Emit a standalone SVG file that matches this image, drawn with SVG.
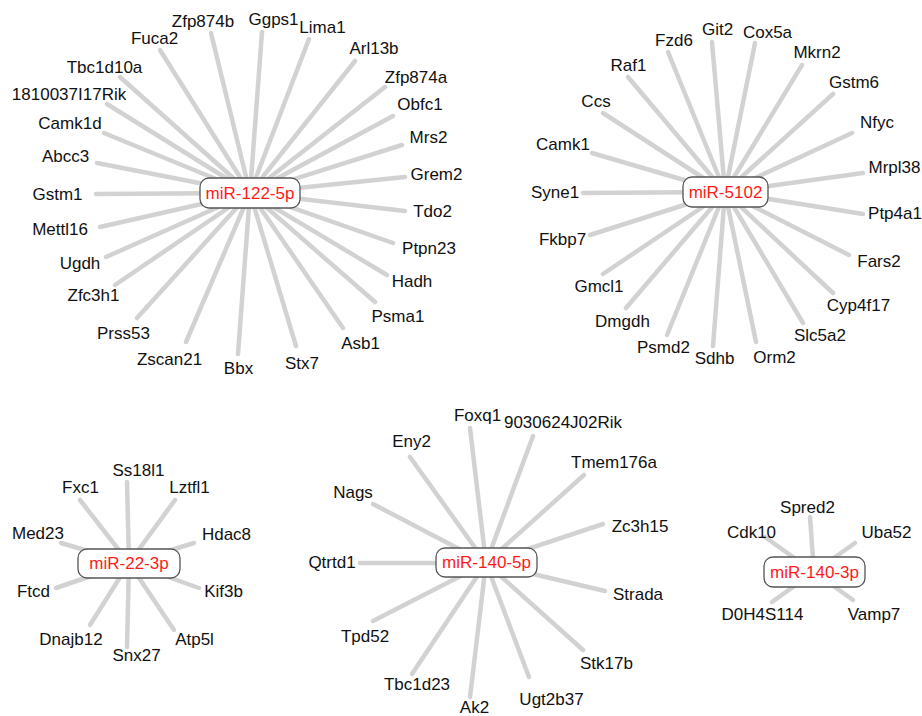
<svg xmlns="http://www.w3.org/2000/svg" width="922" height="716" viewBox="0 0 922 716">
<style>
.e line{stroke:#d2d2d2;stroke-width:4.5;stroke-linecap:round}
.hub rect{fill:#fff;stroke:#555;stroke-width:1.3}
.hub text{fill:#ff1a1a;font-family:"Liberation Sans",Arial,sans-serif;font-size:17px;text-anchor:middle}
.t{fill:#111;font-family:"Liberation Sans",Arial,sans-serif;font-size:17px;text-anchor:middle}
</style>
<rect width="922" height="716" fill="#fff"/>
<g id="connectors" class="e">
<!-- miR-122-5p -->
<line x1="250" y1="193" x2="262" y2="32"/>
<line x1="250" y1="193" x2="309" y2="39"/>
<line x1="250" y1="193" x2="211" y2="33"/>
<line x1="250" y1="193" x2="160" y2="50"/>
<line x1="250" y1="193" x2="120" y2="77"/>
<line x1="250" y1="193" x2="107" y2="104"/>
<line x1="250" y1="193" x2="104" y2="133"/>
<line x1="250" y1="193" x2="97" y2="163"/>
<line x1="250" y1="193" x2="96" y2="194"/>
<line x1="250" y1="193" x2="100" y2="227"/>
<line x1="250" y1="193" x2="106" y2="257"/>
<line x1="250" y1="193" x2="115" y2="285"/>
<line x1="250" y1="193" x2="137" y2="318"/>
<line x1="250" y1="193" x2="186" y2="342"/>
<line x1="250" y1="193" x2="238" y2="354"/>
<line x1="250" y1="193" x2="296" y2="346"/>
<line x1="250" y1="193" x2="343" y2="328"/>
<line x1="250" y1="193" x2="375" y2="302"/>
<line x1="250" y1="193" x2="387" y2="275"/>
<line x1="250" y1="193" x2="393" y2="243"/>
<line x1="250" y1="193" x2="405" y2="211"/>
<line x1="250" y1="193" x2="405" y2="177"/>
<line x1="250" y1="193" x2="402" y2="145"/>
<line x1="250" y1="193" x2="393" y2="116"/>
<line x1="250" y1="193" x2="385" y2="87"/>
<line x1="250" y1="193" x2="355" y2="61"/>
<!-- miR-5102 -->
<line x1="725" y1="192" x2="712" y2="42"/>
<line x1="725" y1="192" x2="755" y2="43"/>
<line x1="725" y1="192" x2="668" y2="52"/>
<line x1="725" y1="192" x2="802" y2="65"/>
<line x1="725" y1="192" x2="628" y2="77"/>
<line x1="725" y1="192" x2="833" y2="94"/>
<line x1="725" y1="192" x2="603" y2="113"/>
<line x1="725" y1="192" x2="852" y2="133"/>
<line x1="725" y1="192" x2="592" y2="153"/>
<line x1="725" y1="192" x2="863" y2="173"/>
<line x1="725" y1="192" x2="583" y2="193"/>
<line x1="725" y1="192" x2="863" y2="214"/>
<line x1="725" y1="192" x2="590" y2="235"/>
<line x1="725" y1="192" x2="849" y2="255"/>
<line x1="725" y1="192" x2="603" y2="274"/>
<line x1="725" y1="192" x2="833" y2="293"/>
<line x1="725" y1="192" x2="626" y2="308"/>
<line x1="725" y1="192" x2="803" y2="323"/>
<line x1="725" y1="192" x2="667" y2="335"/>
<line x1="725" y1="192" x2="713" y2="346"/>
<line x1="725" y1="192" x2="756" y2="342"/>
<!-- miR-22-3p -->
<line x1="129" y1="563" x2="127" y2="482"/>
<line x1="129" y1="563" x2="80" y2="500"/>
<line x1="129" y1="563" x2="175" y2="500"/>
<line x1="129" y1="563" x2="61" y2="543"/>
<line x1="129" y1="563" x2="194" y2="543"/>
<line x1="129" y1="563" x2="56" y2="588"/>
<line x1="129" y1="563" x2="199" y2="588"/>
<line x1="129" y1="563" x2="90" y2="625"/>
<line x1="129" y1="563" x2="127" y2="647"/>
<line x1="129" y1="563" x2="174" y2="630"/>
<!-- miR-140-5p -->
<line x1="486" y1="563" x2="470" y2="428"/>
<line x1="486" y1="563" x2="533" y2="436"/>
<line x1="486" y1="563" x2="410" y2="457"/>
<line x1="486" y1="563" x2="584" y2="475"/>
<line x1="486" y1="563" x2="373" y2="504"/>
<line x1="486" y1="563" x2="603" y2="524"/>
<line x1="486" y1="563" x2="360" y2="563"/>
<line x1="486" y1="563" x2="605" y2="591"/>
<line x1="486" y1="563" x2="373" y2="621"/>
<line x1="486" y1="563" x2="583" y2="650"/>
<line x1="486" y1="563" x2="412" y2="674"/>
<line x1="486" y1="563" x2="529" y2="677"/>
<line x1="486" y1="563" x2="470" y2="697"/>
<!-- miR-140-3p -->
<line x1="814" y1="572" x2="810" y2="517"/>
<line x1="814" y1="572" x2="765" y2="537"/>
<line x1="814" y1="572" x2="855" y2="543"/>
<line x1="814" y1="572" x2="772" y2="602"/>
<line x1="814" y1="572" x2="853" y2="600"/>
</g>
<g id="miR-122-5p" class="hub"><rect x="200" y="178" width="100" height="30" rx="9"/><text x="250" y="199">miR-122-5p</text></g>
<g id="miR-5102" class="hub"><rect x="683" y="177" width="85" height="30" rx="9"/><text x="725.5" y="198">miR-5102</text></g>
<g id="miR-22-3p" class="hub"><rect x="78" y="549" width="102" height="29" rx="9"/><text x="129" y="569">miR-22-3p</text></g>
<g id="miR-140-5p" class="hub"><rect x="436" y="548" width="101" height="29" rx="9"/><text x="486.5" y="568">miR-140-5p</text></g>
<g id="miR-140-3p" class="hub"><rect x="764" y="557" width="101" height="30" rx="9"/><text x="814.5" y="578">miR-140-3p</text></g>
<g class="t">
<g id="Ggps1"><text x="273.5" y="25">Ggps1</text></g>
<g id="Lima1"><text x="322.5" y="33">Lima1</text></g>
<g id="Zfp874b"><text x="203" y="27">Zfp874b</text></g>
<g id="Fuca2"><text x="154.5" y="44">Fuca2</text></g>
<g id="Tbc1d10a"><text x="104.5" y="73">Tbc1d10a</text></g>
<g id="n1810037I17Rik"><text x="69" y="100">1810037I17Rik</text></g>
<g id="Camk1d"><text x="70" y="129">Camk1d</text></g>
<g id="Abcc3"><text x="65.5" y="162">Abcc3</text></g>
<g id="Gstm1"><text x="57.5" y="200">Gstm1</text></g>
<g id="Mettl16"><text x="60" y="235">Mettl16</text></g>
<g id="Ugdh"><text x="80" y="269">Ugdh</text></g>
<g id="Zfc3h1"><text x="93.5" y="301">Zfc3h1</text></g>
<g id="Prss53"><text x="123.5" y="339">Prss53</text></g>
<g id="Zscan21"><text x="169.5" y="365">Zscan21</text></g>
<g id="Bbx"><text x="238.5" y="374">Bbx</text></g>
<g id="Stx7"><text x="302" y="369">Stx7</text></g>
<g id="Asb1"><text x="360.5" y="349">Asb1</text></g>
<g id="Psma1"><text x="398" y="322">Psma1</text></g>
<g id="Hadh"><text x="412" y="287">Hadh</text></g>
<g id="Ptpn23"><text x="429" y="254">Ptpn23</text></g>
<g id="Tdo2"><text x="432.5" y="217">Tdo2</text></g>
<g id="Grem2"><text x="436.5" y="180">Grem2</text></g>
<g id="Mrs2"><text x="428.5" y="143">Mrs2</text></g>
<g id="Obfc1"><text x="420" y="110">Obfc1</text></g>
<g id="Zfp874a"><text x="416" y="83">Zfp874a</text></g>
<g id="Arl13b"><text x="374" y="54">Arl13b</text></g>

<g id="Git2"><text x="717.5" y="35">Git2</text></g>
<g id="Cox5a"><text x="767.5" y="38">Cox5a</text></g>
<g id="Fzd6"><text x="674" y="46">Fzd6</text></g>
<g id="Mkrn2"><text x="817" y="58">Mkrn2</text></g>
<g id="Raf1"><text x="628.5" y="71">Raf1</text></g>
<g id="Gstm6"><text x="854" y="88">Gstm6</text></g>
<g id="Ccs"><text x="596" y="107">Ccs</text></g>
<g id="Nfyc"><text x="877" y="128">Nfyc</text></g>
<g id="Camk1"><text x="563" y="150">Camk1</text></g>
<g id="Mrpl38"><text x="894.5" y="173">Mrpl38</text></g>
<g id="Syne1"><text x="555" y="198">Syne1</text></g>
<g id="Ptp4a1"><text x="895" y="219">Ptp4a1</text></g>
<g id="Fkbp7"><text x="562.5" y="245">Fkbp7</text></g>
<g id="Fars2"><text x="879" y="267">Fars2</text></g>
<g id="Gmcl1"><text x="599" y="292">Gmcl1</text></g>
<g id="Cyp4f17"><text x="858.5" y="311">Cyp4f17</text></g>
<g id="Dmgdh"><text x="622.5" y="327">Dmgdh</text></g>
<g id="Slc5a2"><text x="820" y="341">Slc5a2</text></g>
<g id="Psmd2"><text x="663.5" y="353">Psmd2</text></g>
<g id="Sdhb"><text x="714.5" y="364">Sdhb</text></g>
<g id="Orm2"><text x="774.5" y="363">Orm2</text></g>

<g id="Ss18l1"><text x="138.5" y="476">Ss18l1</text></g>
<g id="Fxc1"><text x="80.5" y="493">Fxc1</text></g>
<g id="Lztfl1"><text x="189.5" y="493">Lztfl1</text></g>
<g id="Med23"><text x="38" y="539">Med23</text></g>
<g id="Hdac8"><text x="226.5" y="540">Hdac8</text></g>
<g id="Ftcd"><text x="33.5" y="597">Ftcd</text></g>
<g id="Kif3b"><text x="223.5" y="597">Kif3b</text></g>
<g id="Dnajb12"><text x="71" y="645">Dnajb12</text></g>
<g id="Snx27"><text x="136.5" y="661">Snx27</text></g>
<g id="Atp5l"><text x="194.5" y="645">Atp5l</text></g>

<g id="Foxq1"><text x="477.5" y="421">Foxq1</text></g>
<g id="n9030624J02Rik"><text x="563" y="428">9030624J02Rik</text></g>
<g id="Eny2"><text x="411.5" y="447">Eny2</text></g>
<g id="Tmem176a"><text x="614" y="468">Tmem176a</text></g>
<g id="Nags"><text x="353" y="498">Nags</text></g>
<g id="Zc3h15"><text x="640" y="532">Zc3h15</text></g>
<g id="Qtrtd1"><text x="332" y="568">Qtrtd1</text></g>
<g id="Strada"><text x="638" y="600">Strada</text></g>
<g id="Tpd52"><text x="365" y="642">Tpd52</text></g>
<g id="Stk17b"><text x="606.5" y="669">Stk17b</text></g>
<g id="Tbc1d23"><text x="417" y="690">Tbc1d23</text></g>
<g id="Ugt2b37"><text x="551.5" y="705">Ugt2b37</text></g>
<g id="Ak2"><text x="474.5" y="713">Ak2</text></g>

<g id="Spred2"><text x="807.5" y="513">Spred2</text></g>
<g id="Cdk10"><text x="751.5" y="538">Cdk10</text></g>
<g id="Uba52"><text x="886.5" y="538">Uba52</text></g>
<g id="D0H4S114"><text x="762.5" y="620">D0H4S114</text></g>
<g id="Vamp7"><text x="874" y="620">Vamp7</text></g>
</g>
</svg>
